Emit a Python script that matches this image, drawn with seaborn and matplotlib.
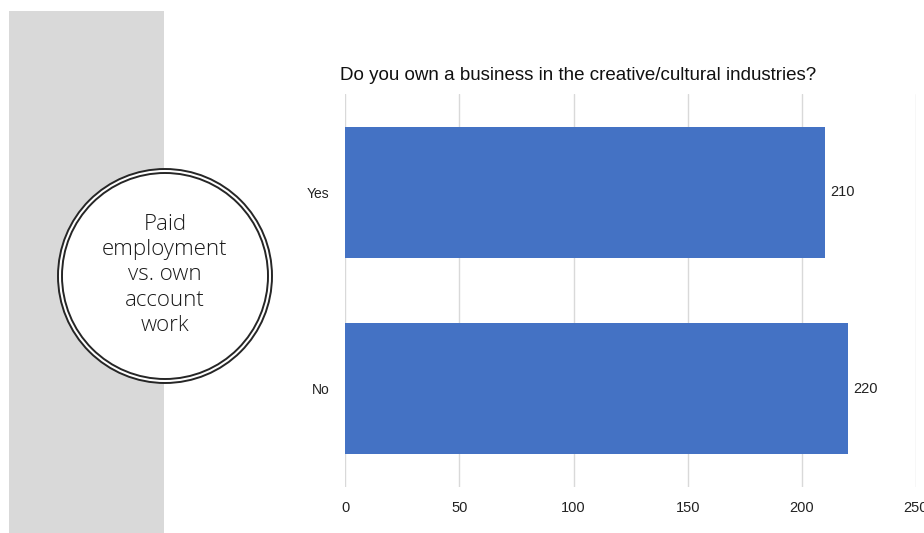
import matplotlib
matplotlib.use("Agg")
import matplotlib.pyplot as plt
from matplotlib.patches import Rectangle, Ellipse
import pandas as pd
import seaborn as sns

# Survey answers and counts
answers = ["Yes", "No"]
counts = [210, 220]
x_ticks = [0, 50, 100, 150, 200, 250]
title = "Do you own a business in the creative/cultural industries?"
side_label = "Paid\nemployment\nvs. own\naccount\nwork"

df = pd.DataFrame({"answer": answers, "count": counts})

sns.set_theme(style="white")
plt.rcParams["font.family"] = ["Liberation Sans", "DejaVu Sans"]

W, H = 924, 533
fig = plt.figure(figsize=(W / 100, H / 100), dpi=100)
fig.patch.set_facecolor("white")

# Grey side panel
fig.patches.append(Rectangle((9 / W, 0), (164 - 9) / W, (H - 11) / H,
                             transform=fig.transFigure, facecolor="#d9d9d9",
                             edgecolor="none", zorder=0))

# Double-ringed circle badge
cx, cy = 165, 276
for r, fill in [(107, "white"), (103, "none")]:
    fig.patches.append(Ellipse((cx / W, 1 - cy / H), 2 * r / W, 2 * r / H,
                               transform=fig.transFigure, facecolor=fill,
                               edgecolor="#262626", linewidth=1.4, zorder=1))
fig.text(cx / W, 1 - 275 / H, side_label, ha="center", va="center",
         fontsize=16, family=["Open Sans", "DejaVu Sans"], fontweight="light",
         color="#1a1a1a", linespacing=1.27, zorder=2)

# Bar chart
left, right, top, bottom = 345.3, 916, 94, 487
ax = fig.add_axes([left / W, 1 - bottom / H, (right - left) / W, (bottom - top) / H])
sns.barplot(data=df, x="count", y="answer", orient="h", color="#4472C4",
            width=0.665, linewidth=0, saturation=1, ax=ax, zorder=3)
ax.set_xlim(0, 250)
ax.set_ylim(1.5, -0.5)
ax.set_xticks(x_ticks)
ax.set_xticklabels([str(t) for t in x_ticks])
ax.grid(axis="x", color="#d9d9d9", linewidth=1, zorder=0)
ax.grid(axis="y", visible=False)
ax.set_axisbelow(True)
for s in ax.spines.values():
    s.set_visible(False)
ax.set_xlabel("")
ax.set_ylabel("")
ax.tick_params(axis="x", length=0, pad=10, labelsize=10.5, labelcolor="#222222")
ax.tick_params(axis="y", length=0, pad=11.5, labelsize=10, labelcolor="#222222")
ax.bar_label(ax.containers[0], labels=[str(v) for v in counts], padding=4.3,
             fontsize=10.5, color="#222222")

fig.text(578 / W, 1 - 76 / H, title, ha="center", va="center",
         fontsize=13.5, color="#111111")

fig.savefig("out.png", dpi=100)
